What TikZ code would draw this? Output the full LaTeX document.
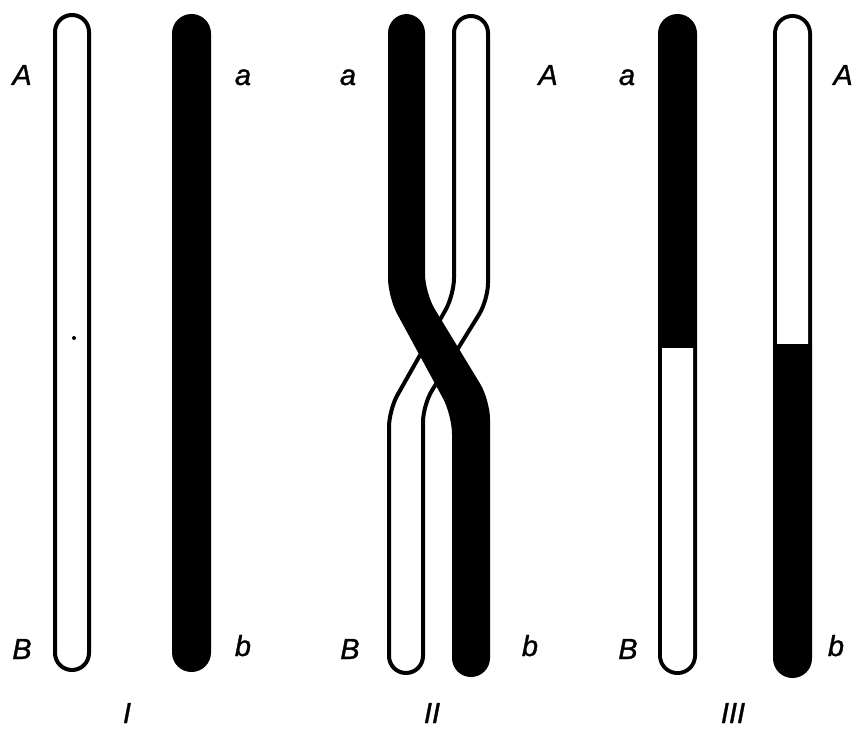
\documentclass[tikz,border=0pt]{standalone}
\usepackage{fontspec}
\setmainfont{Liberation Sans}
\newfontfamily\labelfont[FakeBold=1.2]{Liberation Sans}
\begin{document}
\begin{tikzpicture}[x=1pt,y=-1pt,
  lab/.style={anchor=base,inner sep=0pt,text depth=0pt,
    font=\labelfont\fontsize{29}{32}\selectfont\itshape},
  outline/.style={fill=white,draw=black,line width=4pt,line join=round},
  solid band/.style={fill=black}]
\useasboundingbox (0,0) rectangle (858,730);

% ---- I: two straight chromosomes ----
\draw[outline,rounded corners=17] (55,15) rectangle (89,670);
\fill[black] (74,338) circle (2);
\fill[solid band,rounded corners=19.5] (172,14) rectangle (211,672);

% ---- II: crossing over ----
\draw[outline,rounded corners=17]
  (454,200) -- (454,16) -- (488,16) -- (488,300) -- (423,405) -- (423,673)
  -- (389,673) -- (389,410) -- (454,295) -- cycle;
\fill[solid band,rounded corners=19]
  (388,200) -- (388,14) -- (425,14) -- (425,293) -- (490,400) -- (490,677)
  -- (452,677) -- (452,415) -- (388,297) -- cycle;

% ---- III: recombinant chromosomes ----
\fill[black,rounded corners=19.5] (658,14) rectangle (697,675);
\fill[white,rounded corners=15.5] (662,300) rectangle (693,671);
\fill[black] (658,290) rectangle (697,348);

\fill[black,rounded corners=19.5] (773,14) rectangle (812,678);
\fill[white,rounded corners=15.5] (777,18) rectangle (808,390);
\fill[black] (773,344) rectangle (812,400);

% ---- gene labels ----
\node[lab] (A1) at (22,85) {A};
\node[lab] (a1) at (243,85) {a};
\node[lab] (B1) at (22,659) {B};
\node[lab] (b1) at (243,656) {b};

\node[lab] (a2) at (348,85) {a};
\node[lab] (A2) at (548,85) {A};
\node[lab] (B2) at (350,659) {B};
\node[lab] (b2) at (530,656) {b};

\node[lab] (a3) at (627,85) {a};
\node[lab] (A3) at (843,85) {A};
\node[lab] (B3) at (628,659) {B};
\node[lab] (b3) at (836,656) {b};

% ---- stage numerals ----
\node[lab] (s1) at (127,723) {I};
\node[lab] (s2) at (432,723) {II};
\node[lab] (s3) at (733,723) {III};
\end{tikzpicture}
\end{document}
